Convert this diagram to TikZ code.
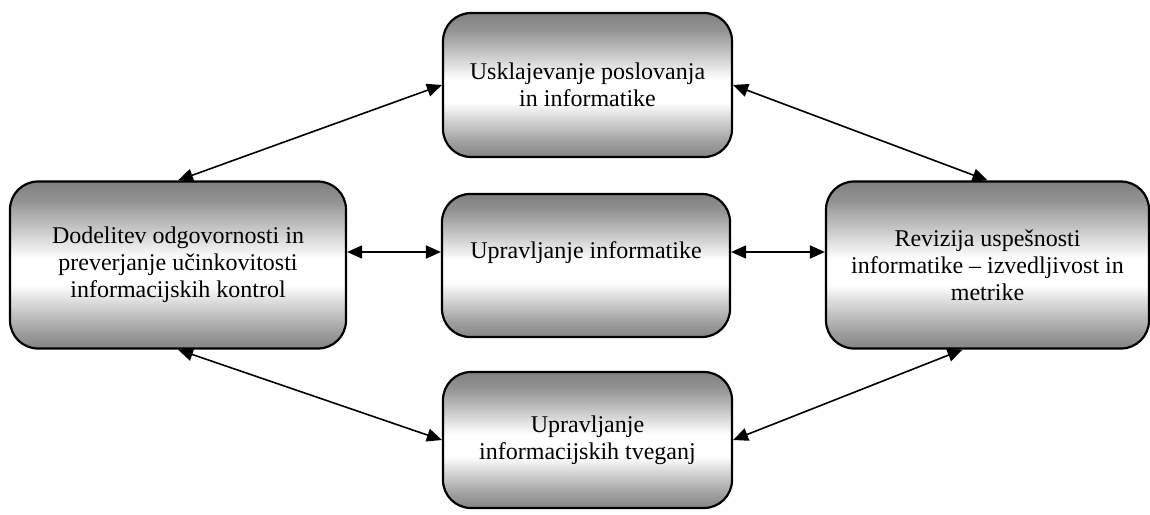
\documentclass[tikz,border=0pt]{standalone}
\usepackage{fontspec}
\setmainfont{Liberation Serif}
\usetikzlibrary{arrows.meta,calc}
% grey at the top and bottom edges, white in a band just below the middle
\pgfdeclareverticalshading{boxshade}{100bp}{%
  color(0bp)=(black!48); color(25bp)=(black!48); color(30bp)=(black!38);
  color(37.5bp)=(black!18); color(44bp)=(white); color(52bp)=(white);
  color(60bp)=(black!20); color(69bp)=(black!42); color(75bp)=(black!50);
  color(100bp)=(black!50)}
\begin{document}
\begin{tikzpicture}[x=1pt,y=-1pt,
  box/.style={draw=black, line width=2.2pt, rounded corners=28pt,
    shading=boxshade, inner sep=0pt, align=center,
    font=\fontsize{24}{27}\selectfont},
  txt/.style={align=center, inner sep=0pt, font=\fontsize{24}{27}\selectfont},
  link/.style={line width=1.6pt, {Triangle[length=15pt,width=13pt]}-{Triangle[length=15pt,width=13pt]}}]
  \useasboundingbox (0,0) rectangle (1150,514);
  % boxes
  \node[box, minimum width=289pt, minimum height=144pt] (T) at (587.5,85)
    {Usklajevanje poslovanja\\in informatike};
  \node[box, minimum width=336pt, minimum height=167pt] (L) at (178,265)
    {Dodelitev odgovornosti in\\preverjanje učinkovitosti\\informacijskih kontrol};
  \node[box, minimum width=288pt, minimum height=143pt] (M) at (586,265.5) {};
  \node[txt] (Mt) at (586,253) {Upravljanje informatike};
  \node[box, minimum width=323pt, minimum height=167pt] (R) at (987.5,265)
    {Revizija uspešnosti\\informatike – izvedljivost in\\metrike};
  \node[box, minimum width=289pt, minimum height=136pt] (B) at (587.5,440)
    {Upravljanje\\informacijskih tveganj};
  % connectors
  \coordinate (h) at (0,252);
  \draw[link] (L.north) -- (T.west);
  \draw[link] (T.east) -- (R.north);
  \draw[link] (L.east |- h) -- (M.west |- h);
  \draw[link] (M.east |- h) -- (R.west |- h);
  \draw[link] (L.south) -- (B.west);
  \draw[link] (B.east) -- ($(R.south)+(-25,0)$);
\end{tikzpicture}
\end{document}
